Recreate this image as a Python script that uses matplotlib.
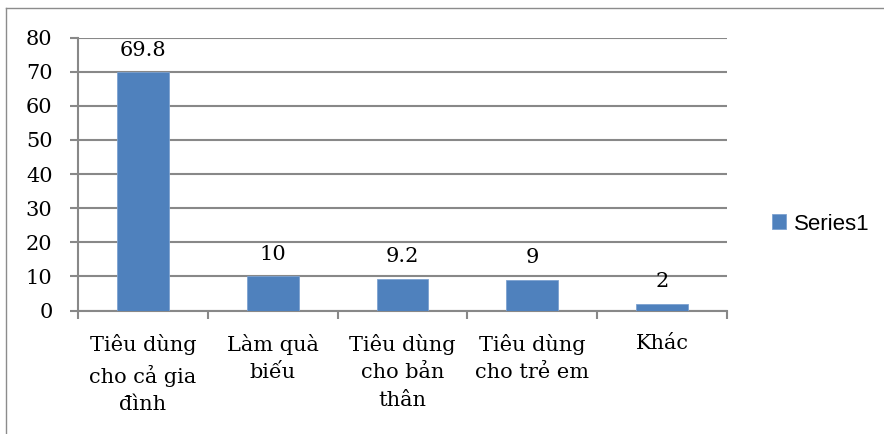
import matplotlib
matplotlib.use("Agg")
import matplotlib.pyplot as plt
from matplotlib.lines import Line2D

# Data
categories = ["Tiêu dùng\ncho cả gia\nđình", "Làm quà\nbiếu", "Tiêu dùng\ncho bản\nthân",
              "Tiêu dùng\ncho trẻ em", "Khác"]
values = [69.8, 10, 9.2, 9, 2]
value_labels = ["69.8", "10", "9.2", "9", "2"]
y_ticks = [0, 10, 20, 30, 40, 50, 60, 70, 80]
series_name = "Series1"

bar_color = "#4F81BD"
grid_color = "#888888"
serif = "DejaVu Serif"
fs = 15

fig = plt.figure(figsize=(8.84, 4.34), dpi=100)
ax = fig.add_axes([78 / 884, 1 - 310.5 / 434, (727 - 78) / 884, (310.5 - 37.5) / 434])

x = list(range(len(categories)))
ax.bar(x, values, width=0.4, color=bar_color, edgecolor="#7DA2D0", linewidth=0.6,
       label=series_name, zorder=3)

# data labels above bars
for xi, v, lab in zip(x, values, value_labels):
    ax.annotate(lab, (xi, v), xytext=(0, 12), textcoords="offset points",
                ha="center", va="baseline", fontsize=fs, family=serif)

ax.set_xlim(-0.5, len(categories) - 0.5)
ax.set_ylim(0, 80)
ax.set_yticks(y_ticks)
ax.set_yticklabels([str(t) for t in y_ticks], fontsize=fs, family=serif)
ax.yaxis.grid(True, color=grid_color, linewidth=1.5, zorder=0)

# category labels at centres, ticks at category boundaries
ax.set_xticks(x)
ax.set_xticklabels(categories, fontsize=fs, family=serif, linespacing=1.55)
ax.set_xticks([i - 0.5 for i in range(len(categories) + 1)], minor=True)
ax.tick_params(axis="x", which="major", length=0, pad=17)
ax.tick_params(axis="x", which="minor", length=5.8, width=1.5, color=grid_color)
ax.tick_params(axis="y", length=5.8, width=1.5, color=grid_color, pad=12.5)

for side in ["top", "right"]:
    ax.spines[side].set_visible(False)
for side in ["left", "bottom"]:
    ax.spines[side].set_color(grid_color)
    ax.spines[side].set_linewidth(1.5)

leg = fig.legend(loc="center left", bbox_to_anchor=(752 / 884, 1 - 224 / 434),
                 frameon=False, prop={"family": "Liberation Sans", "size": 16},
                 handlelength=0.65, handleheight=0.65, handletextpad=0.35)

# chart-area border (top and left visible)
fig.add_artist(Line2D([6 / 884, 1], [1 - 8 / 434, 1 - 8 / 434], color="#8C8C8C", linewidth=1))
fig.add_artist(Line2D([6 / 884, 6 / 884], [0, 1 - 8 / 434], color="#8C8C8C", linewidth=1))

fig.savefig("out.png", dpi=100)
